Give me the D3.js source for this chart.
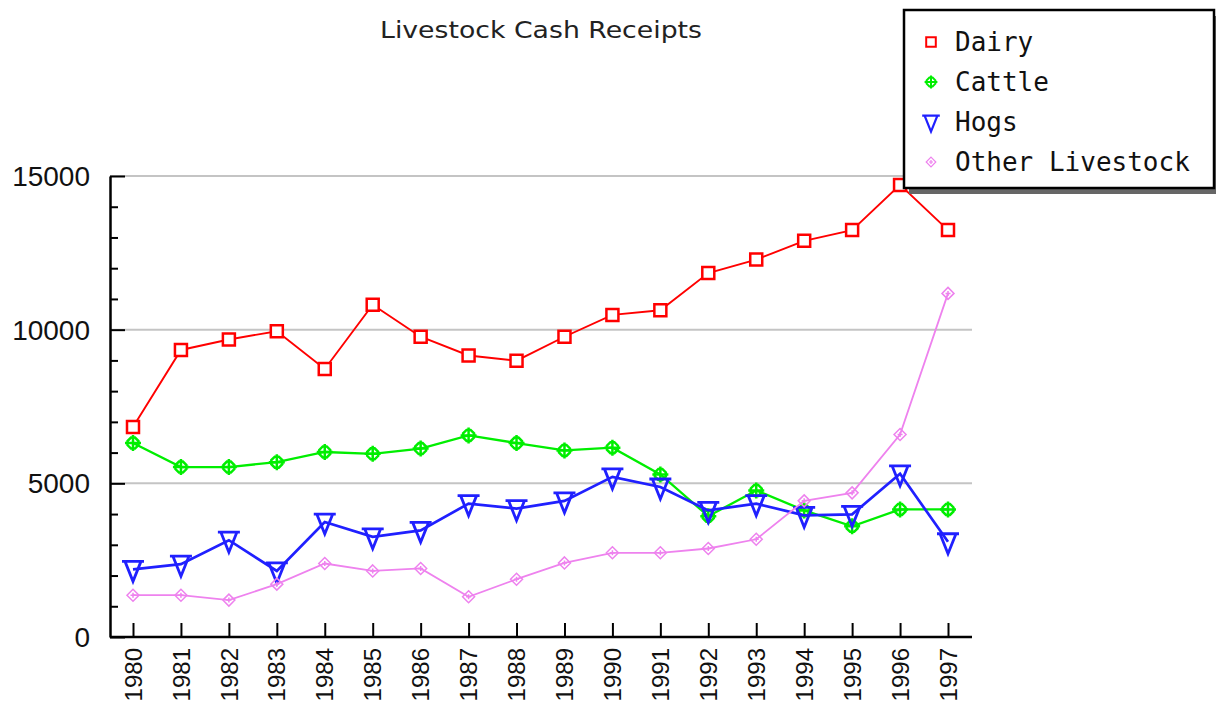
<!DOCTYPE html>
<html>
<head>
<meta charset="utf-8">
<script src="https://cdn.jsdelivr.net/npm/d3@7"></script>
<style>
  body { margin: 0; background: #fff; }
  svg { display: block; }
</style>
</head>
<body>
<div id="chart"></div>
<script>
// Data
var years = ["1980","1981","1982","1983","1984","1985","1986","1987","1988",
             "1989","1990","1991","1992","1993","1994","1995","1996","1997"];
var dairy = [6830, 9340, 9680, 9950, 8720, 10810, 9770, 9160, 8990,
             9770, 10480, 10630, 11840, 12280, 12890, 13240, 14710, 13240];
var cattle = [6310, 5530, 5530, 5690, 6020, 5960, 6130, 6560, 6310,
              6070, 6160, 5290, 3930, 4770, 4120, 3600, 4150, 4150];
var hogs = [2200, 2370, 3150, 2150, 3740, 3260, 3470, 4340, 4180,
            4430, 5210, 4880, 4120, 4340, 3960, 3990, 5310, 3100];
var other = [1360, 1360, 1200, 1720, 2390, 2150, 2230, 1310, 1880,
             2410, 2740, 2740, 2880, 3180, 4430, 4690, 6590, 11180];
var seriesNames = ["Dairy", "Cattle", "Hogs", "Other Livestock"];
var yTicks = [0, 5000, 10000, 15000];

var svgWidth = 1216;
var svgHeight = 708;
var margin = { top: 176, right: 244, bottom: 71, left: 110 };
var width = svgWidth - margin.left - margin.right;
var height = svgHeight - margin.top - margin.bottom;

var svg = d3.select("#chart").append("svg")
  .attr("width", svgWidth)
  .attr("height", svgHeight);

var chartGroup = svg.append("g")
  .attr("transform", `translate(${margin.left}, ${margin.top})`);

var x = d3.scalePoint().domain(years).range([23, width - 24]);
var y = d3.scaleLinear().domain([0, 15000]).range([height, 0]);

// marker shapes (relative paths)
function markerPath(kind) {
  if (kind === "Dairy") return "M-6,-6H6V6H-6Z";
  if (kind === "Cattle") return "M-2,-5.5H2L5.5,-2V2L2,5.5H-2L-5.5,2V-2Z M0,-8V8 M-8,0H8";
  if (kind === "Hogs") return "M-11,-8H11 M-8,-8L0,12L8,-8";
  return "M0,-6L6,0L0,6L-6,0Z M0,-2.5V2.5 M-2.5,0H2.5";
}

var series = [
  { name: "Dairy", values: dairy, color: "#ff0000", lw: 1.9, mw: 2.5 },
  { name: "Cattle", values: cattle, color: "#00ee00", lw: 2.3, mw: 2.5 },
  { name: "Hogs", values: hogs, color: "#2020ff", lw: 2.7, mw: 2.8 },
  { name: "Other Livestock", values: other, color: "#ee82ee", lw: 1.8, mw: 1.5 }
];

// gridlines
chartGroup.selectAll(".grid")
  .data(yTicks.filter(d => d > 0))
  .enter().append("line")
  .attr("x1", 0).attr("x2", width)
  .attr("y1", d => y(d)).attr("y2", d => y(d))
  .attr("stroke", "#c4c4c4").attr("stroke-width", 2);

// y axis: minor ticks every 1000, major every 5000
var yAxis = d3.axisRight(y)
  .tickValues(d3.range(0, 15001, 1000))
  .tickSizeInner(8).tickSizeOuter(0)
  .tickFormat("");
var yg = chartGroup.append("g").call(yAxis);
yg.selectAll("line").attr("stroke", "#000").attr("stroke-width", 2)
  .attr("x2", d => d % 5000 === 0 ? 15 : 8);
yg.select(".domain").attr("stroke", "#000").attr("stroke-width", 2.5);

chartGroup.selectAll(".ylab")
  .data(yTicks)
  .enter().append("text")
  .attr("x", -20)
  .attr("y", d => y(d))
  .attr("dy", "0.36em")
  .attr("text-anchor", "end")
  .style("font-family", "Liberation Sans, Arial, sans-serif")
  .style("font-size", "28px")
  .style("fill", "#111")
  .text(d => d);

// x axis
var xAxis = d3.axisTop(x).tickSizeInner(14).tickSizeOuter(0).tickFormat("");
var xg = chartGroup.append("g")
  .attr("transform", `translate(0, ${height})`)
  .call(xAxis);
xg.selectAll("line").attr("stroke", "#000").attr("stroke-width", 2);
xg.select(".domain").attr("stroke", "#000").attr("stroke-width", 2.5)
  .attr("d", `M0,0H${width}`);

chartGroup.selectAll(".xlab")
  .data(years)
  .enter().append("text")
  .attr("transform", d => `translate(${x(d)}, ${height + 11}) rotate(-90)`)
  .attr("dy", "0.36em")
  .attr("text-anchor", "end")
  .style("font-family", "Liberation Sans, Arial, sans-serif")
  .style("font-size", "24px")
  .style("fill", "#111")
  .text(d => d);

// lines and markers
var line = d3.line()
  .x((d, i) => x(years[i]))
  .y(d => y(d));

series.forEach(function(s) {
  chartGroup.append("path")
    .datum(s.values)
    .attr("d", line)
    .attr("fill", "none")
    .attr("stroke", s.color)
    .attr("stroke-width", s.lw);

  chartGroup.selectAll(null)
    .data(s.values)
    .enter().append("path")
    .attr("transform", (d, i) => `translate(${x(years[i])}, ${y(d)})`)
    .attr("d", markerPath(s.name))
    .attr("fill", s.name === "Dairy" ? "#fff" : "none")
    .attr("stroke", s.color)
    .attr("stroke-width", s.mw);
});

// title
svg.append("text")
  .attr("x", margin.left + width / 2)
  .attr("y", 38)
  .attr("text-anchor", "middle")
  .attr("textLength", 322)
  .attr("lengthAdjust", "spacingAndGlyphs")
  .style("font-family", "DejaVu Sans, sans-serif")
  .style("font-size", "23px")
  .style("fill", "#222")
  .text("Livestock Cash Receipts");

// legend
var legend = svg.append("g").attr("transform", "translate(904, 10)");
legend.append("rect")
  .attr("x", 5).attr("y", 6).attr("width", 310).attr("height", 178)
  .attr("fill", "#666");
legend.append("rect")
  .attr("x", 0).attr("y", 0).attr("width", 310).attr("height", 178)
  .attr("fill", "#fff").attr("stroke", "#000").attr("stroke-width", 2.5);

var rows = legend.selectAll(".row")
  .data(series)
  .enter().append("g")
  .attr("transform", (d, i) => `translate(0, ${32 + i * 40})`);

rows.append("path")
  .attr("transform", "translate(27, 0) scale(0.8)")
  .attr("d", d => markerPath(d.name))
  .attr("fill", "none")
  .attr("stroke", d => d.color)
  .attr("stroke-width", d => d.mw);

rows.append("text")
  .attr("x", 51)
  .attr("dy", "0.36em")
  .style("font-family", "DejaVu Sans Mono, monospace")
  .style("font-size", "26px")
  .style("fill", "#111")
  .text(d => d.name);
</script>
</body>
</html>
